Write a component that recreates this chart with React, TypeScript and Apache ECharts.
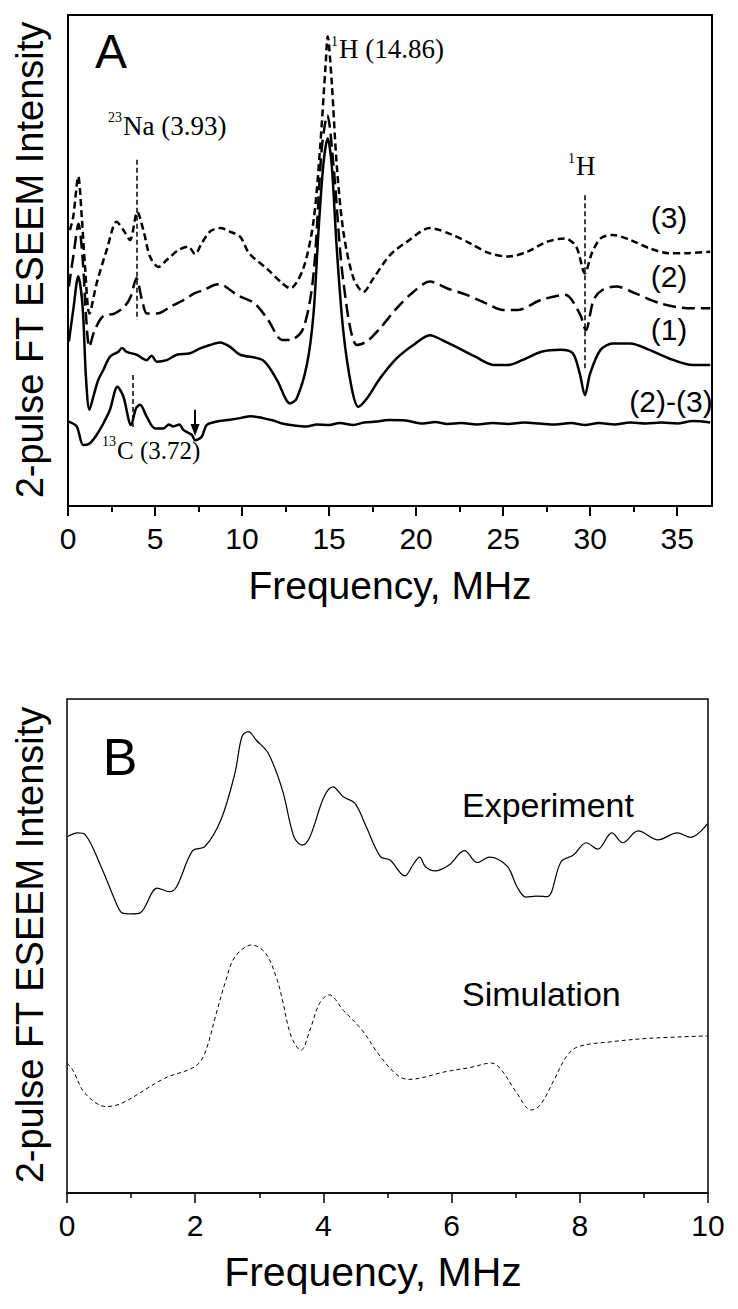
import React, { useEffect, useRef } from "react";
import * as echarts from "echarts";

// ---------- tick values ----------
const xMajorA = [0, 5, 10, 15, 20, 25, 30, 35];
const xMinorA = [2.5, 7.5, 12.5, 17.5, 22.5, 27.5, 32.5];
const xMajorB = [0, 2, 4, 6, 8, 10];
const xMinorB = [1, 3, 5, 7, 9];

// ---------- Panel A series: [MHz, relative intensity] ----------
const curve3 = [
  [0.11, 56.2], [0.3, 58.9], [0.59, 67.1], [0.79, 58.9], [0.98, 48.7], [1.23, 39.2], [1.65, 45.4],
  [2.22, 52.1], [2.8, 57.9], [3.18, 56.2], [3.56, 54.2], [3.98, 59.9], [4.33, 56.2], [4.71, 50.8],
  [5.19, 48.7], [5.67, 50.1], [6.34, 52.1], [6.92, 52.8], [7.3, 51.3], [7.68, 53.5], [8.16, 55.9],
  [8.74, 56.6], [9.3, 55.9], [9.9, 54.8], [10.4, 51.5], [11.5, 48.1], [12.3, 45.4], [12.76, 44.3],
  [13.52, 48.4], [14.1, 57.9], [14.48, 72.8], [14.8, 89.8], [14.92, 95.6], [15.15, 86.4],
  [15.44, 69.5], [15.82, 55.9], [16.4, 46.4], [16.97, 43.6], [17.55, 46.4], [18.5, 51.1],
  [19.47, 53.8], [20.8, 56.6], [22.1, 55.2], [23.1, 53.5], [24.2, 51.5], [25.3, 50.8], [26.4, 51.8],
  [27.5, 53.8], [28.55, 54.5], [29.2, 52.8], [29.7, 47.4], [30.1, 51.5], [30.6, 54.5], [31.3, 55.2],
  [32.3, 54.2], [33.4, 52.5], [34.5, 51.5], [35.6, 51.5], [36.9, 51.8],
];
const curve2 = [
  [0.05, 44.7], [0.35, 52.0], [0.6, 57.5], [0.85, 50.0], [1.05, 38.0], [1.23, 32.4], [1.5, 35.5],
  [2.0, 38.6], [2.66, 39.2], [3.24, 40.6], [3.6, 42.6], [3.93, 46.4], [4.25, 42.0], [4.54, 39.2],
  [5.12, 39.2], [5.9, 40.6], [6.67, 42.0], [7.25, 43.3], [7.8, 44.0], [8.4, 45.0], [8.74, 45.2],
  [9.2, 44.3], [9.7, 43.0], [10.7, 41.3], [11.5, 37.9], [12.3, 33.8], [12.76, 33.8], [13.52, 36.2],
  [14.1, 47.0], [14.58, 72.8], [14.9, 79.6], [15.25, 69.5], [15.82, 45.7], [16.6, 32.8],
  [17.17, 33.5], [17.93, 36.2], [18.89, 40.3], [19.84, 43.6], [20.8, 45.7], [21.8, 44.3],
  [22.9, 43.0], [24.0, 41.3], [25.0, 39.9], [25.8, 39.9], [27.2, 42.0], [28.55, 43.0], [29.4, 39.2],
  [29.75, 35.8], [30.2, 42.0], [30.7, 44.0], [31.5, 44.7], [32.6, 43.3], [34.0, 41.3], [35.6, 40.3],
  [36.9, 40.3],
];
const curve1 = [
  [0.05, 33.5], [0.3, 39.9], [0.59, 46.8], [0.84, 40.6], [1.03, 26.3], [1.23, 19.6], [1.46, 22.3],
  [1.74, 25.7], [2.03, 27.7], [2.41, 30.4], [2.89, 31.4], [3.1, 32.2], [3.37, 31.4], [3.95, 30.8],
  [4.52, 29.7], [4.8, 30.6], [5.1, 29.4], [5.67, 29.7], [6.25, 30.8], [7.01, 31.1], [7.59, 32.1],
  [8.16, 32.8], [8.74, 33.3], [9.31, 32.4], [9.89, 30.8], [11.2, 29.7], [12.0, 25.7], [12.76, 20.9],
  [13.14, 21.9], [13.72, 28.7], [14.1, 38.9], [14.39, 55.9], [14.67, 69.5], [14.92, 74.9],
  [15.15, 69.5], [15.44, 52.5], [15.82, 35.5], [16.3, 24.0], [16.68, 20.2], [17.17, 21.9],
  [17.93, 26.0], [18.89, 30.1], [19.84, 32.8], [20.8, 34.8], [21.5, 33.8], [22.3, 32.4],
  [23.4, 30.4], [24.5, 28.7], [25.3, 28.7], [26.1, 29.7], [27.2, 31.4], [28.3, 31.8], [29.0, 31.1],
  [29.4, 27.0], [29.7, 22.6], [30.0, 27.0], [30.6, 31.8], [31.3, 33.1], [32.3, 33.1], [33.4, 31.8],
  [34.5, 30.1], [35.9, 28.7], [36.9, 28.7],
];
const curveDiff = [
  [0.05, 17.2], [0.5, 16.2], [0.88, 12.4], [1.26, 12.8], [1.65, 14.5], [2.03, 16.8], [2.41, 19.6],
  [2.84, 24.3], [3.18, 22.3], [3.62, 16.5], [3.91, 19.9], [4.14, 20.6], [4.52, 18.2], [5.0, 15.8],
  [5.48, 15.8], [5.8, 16.6], [6.05, 16.2], [6.4, 16.6], [6.63, 15.5], [7.11, 14.5], [7.3, 13.4],
  [7.68, 14.1], [7.97, 16.5], [8.55, 17.2], [9.12, 17.5], [9.89, 17.9], [10.5, 18.3], [11.2, 17.9],
  [11.8, 17.4], [12.3, 16.8], [13.0, 16.4], [13.7, 16.2], [14.3, 16.6], [15.0, 16.5], [15.6, 16.9],
  [16.4, 16.5], [17.0, 17.0], [17.7, 17.2], [18.4, 17.5], [19.4, 17.4], [20.4, 16.8], [21.1, 17.1],
  [21.8, 16.7], [22.6, 16.9], [23.5, 16.6], [24.4, 16.9], [25.3, 16.7], [26.2, 17.0], [27.1, 16.8],
  [28.0, 16.6], [28.9, 16.9], [29.7, 16.5], [30.5, 16.9], [31.4, 16.6], [32.3, 17.0], [33.2, 16.8],
  [34.1, 17.0], [35.0, 16.8], [35.9, 17.3], [36.9, 17.0],
];

// annotation positions in data units (panel A)
const naLine = [3.93, 70.5, 37.9];
const hLine = [29.7, 63.3, 27.7];
const cLine = [3.72, 26.7, 16.1];
const arrowMark = [7.3, 19.6, 15.5];

// ---------- Panel B series ----------
const experiment = [
  [0, 72.1], [0.17, 72.9], [0.28, 72.6], [0.53, 66.1], [0.79, 58.0], [0.86, 56.7], [1.01, 56.5],
  [1.14, 56.7], [1.41, 61.7], [1.6, 61.0], [1.71, 62.0], [1.96, 69.3], [2.15, 70.1], [2.4, 75.5],
  [2.62, 85.0], [2.73, 92.4], [2.83, 93.4], [2.95, 91.7], [3.14, 89.0], [3.36, 81.6], [3.54, 72.1],
  [3.67, 70.4], [3.79, 72.1], [4.01, 80.2], [4.15, 82.2], [4.31, 80.2], [4.49, 78.9], [4.67, 74.1],
  [4.89, 68.1], [5.04, 67.4], [5.27, 64.2], [5.41, 66.7], [5.5, 68.0], [5.59, 66.1], [5.74, 65.2],
  [5.96, 66.4], [6.2, 69.3], [6.4, 66.9], [6.59, 68.0], [6.87, 66.1], [7.02, 62.0], [7.16, 59.9],
  [7.32, 60.1], [7.49, 60.0], [7.71, 67.1], [7.9, 68.4], [8.1, 70.9], [8.28, 69.6], [8.5, 72.9],
  [8.67, 70.9], [8.91, 73.3], [9.22, 71.5], [9.52, 72.9], [9.73, 72.0], [9.99, 74.7],
];
const simulation = [
  [0, 26.3], [0.09, 24.9], [0.28, 20.2], [0.61, 17.5], [0.86, 18.2], [1.52, 23.2], [2.0, 25.6],
  [2.15, 28.3], [2.33, 36.4], [2.48, 43.1], [2.62, 47.8], [2.88, 50.2], [3.1, 48.5], [3.28, 43.1],
  [3.36, 39.1], [3.5, 31.6], [3.65, 28.9], [3.79, 33.0], [3.94, 38.4], [4.09, 40.1], [4.31, 37.0],
  [4.6, 33.0], [4.89, 27.6], [5.15, 23.9], [5.33, 23.0], [5.92, 24.6], [6.29, 25.4], [6.62, 26.3],
  [6.76, 25.2], [7.02, 20.2], [7.24, 16.8], [7.38, 17.8], [7.6, 22.9], [7.79, 27.6], [7.97, 29.6],
  [8.48, 30.6], [9.07, 31.3], [9.99, 31.8],
];

const SANS = "Liberation Sans, Arial, Helvetica, sans-serif";
const SERIF = "Liberation Serif, Times New Roman, serif";

function txt(text: string, x: number, y: number, size: number, family = SANS, align = "left", extra: any = {}) {
  return {
    type: "text",
    x,
    y,
    silent: true,
    ...extra,
    style: { text, fontSize: size, fontFamily: family, fill: "#000", align, verticalAlign: "middle" },
  };
}

function tickAxis(gridIndex: number, max: number, values: number[], len: number, width: number, labels: boolean) {
  return {
    gridIndex,
    type: "value",
    position: "bottom",
    min: 0,
    max,
    axisLine: { show: labels, onZero: false, lineStyle: { color: "#000", width } },
    axisTick: { show: true, inside: false, length: len, customValues: values, lineStyle: { color: "#000", width } },
    axisLabel: labels
      ? { show: true, customValues: values, fontSize: 30, fontFamily: SANS, color: "#000", margin: 17 }
      : { show: false },
    splitLine: { show: false },
  };
}

function vMark(v: number[]) {
  return [{ coord: [v[0], v[1]] }, { coord: [v[0], v[2]] }];
}

export default function App() {
  const ref = useRef<HTMLDivElement>(null);
  useEffect(() => {
    if (!ref.current) return;
    const chart = echarts.init(ref.current, undefined, { renderer: "svg" });
    const lineA = (data: number[][], type: any, extra: any = {}) => ({
      type: "line",
      xAxisIndex: 0,
      yAxisIndex: 0,
      data,
      showSymbol: false,
      smooth: 0.3,
      lineStyle: { color: "#000", width: 2.5, type },
      ...extra,
    });
    const dashedMark = {
      silent: true,
      symbol: ["none", "none"],
      label: { show: false },
      lineStyle: { color: "#000", width: 1.5, type: [5, 3] },
    };
    chart.setOption({
      animation: false,
      backgroundColor: "#fff",
      grid: [
        { left: 68, top: 15, width: 644, height: 491, show: true, borderColor: "#000", borderWidth: 2, backgroundColor: "transparent" },
        { left: 67, top: 699, width: 641, height: 494, show: true, borderColor: "#000", borderWidth: 1.5, backgroundColor: "transparent" },
      ],
      xAxis: [
        tickAxis(0, 37, xMajorA, 10, 2, true),
        tickAxis(0, 37, xMinorA, 6, 2, false),
        tickAxis(1, 10, xMajorB, 10, 1.5, true),
        tickAxis(1, 10, xMinorB, 5, 1.5, false),
      ],
      yAxis: [
        { gridIndex: 0, type: "value", min: 0, max: 100, show: false },
        { gridIndex: 1, type: "value", min: 0, max: 100, show: false },
      ],
      series: [
        lineA(curve3, [7, 4], {
          markLine: { ...dashedMark, data: [vMark(naLine), vMark(hLine)] },
        }),
        lineA(curve2, [13, 6]),
        lineA(curve1, "solid", {
          markLine: { ...dashedMark, data: [vMark(cLine)] },
        }),
        lineA(curveDiff, "solid", {
          markLine: {
            silent: true,
            label: { show: false },
            symbol: ["none", "triangle"],
            symbolSize: [9, 12],
            symbolRotate: 180,
            lineStyle: { color: "#000", width: 2, type: "solid" },
            itemStyle: { color: "#000" },
            data: [vMark(arrowMark)],
          },
        }),
        {
          type: "line",
          xAxisIndex: 2,
          yAxisIndex: 1,
          data: experiment,
          showSymbol: false,
          smooth: 0.35,
          lineStyle: { color: "#000", width: 1.2, type: "solid" },
        },
        {
          type: "line",
          xAxisIndex: 2,
          yAxisIndex: 1,
          data: simulation,
          showSymbol: false,
          smooth: 0.35,
          lineStyle: { color: "#000", width: 1, type: [4, 3] },
        },
      ],
      graphic: [
        // axis titles
        txt("2-pulse FT ESEEM Intensity", 30, 260, 38, SANS, "center", { rotation: Math.PI / 2 }),
        txt("2-pulse FT ESEEM Intensity", 30, 945, 38, SANS, "center", { rotation: Math.PI / 2 }),
        txt("Frequency, MHz", 390, 585, 39, SANS, "center"),
        txt("Frequency, MHz", 373, 1272, 41, SANS, "center"),
        // panel labels
        txt("A", 111, 51, 48, SANS, "center"),
        txt("B", 120, 757, 52, SANS, "center"),
        // panel A annotations
        txt("23", 122, 117, 14, SERIF, "right"),
        txt("Na (3.93)", 123, 126, 27, SERIF),
        txt("1", 338, 41, 14, SERIF, "right"),
        txt("H (14.86)", 339, 49, 27, SERIF),
        txt("1", 575, 158, 14, SERIF, "right"),
        txt("H", 576, 166, 27, SERIF),
        txt("13", 116, 441, 14, SERIF, "right"),
        txt("C (3.72)", 117, 450, 25, SERIF),
        txt("(3)", 669, 217, 30, SANS, "center"),
        txt("(2)", 669, 276, 30, SANS, "center"),
        txt("(1)", 669, 329, 30, SANS, "center"),
        txt("(2)-(3)", 671, 401, 30, SANS, "center"),
        // panel B annotations
        txt("Experiment", 462, 805, 34, SANS),
        txt("Simulation", 462, 994, 34, SANS),
      ],
    });
    return () => chart.dispose();
  }, []);
  return (
    <div
      ref={ref}
      style={{ position: "absolute", left: 0, top: 0, width: 738, height: 1309, background: "#fff" }}
    />
  );
}
